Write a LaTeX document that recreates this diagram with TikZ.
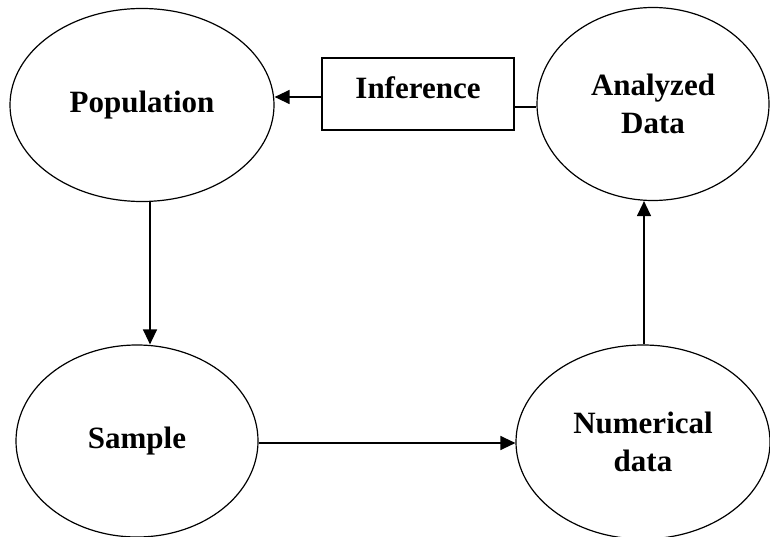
\documentclass[tikz,border=0pt]{standalone}
\usepackage{fontspec}
\setmainfont{Liberation Serif}
\usetikzlibrary{shapes.geometric,arrows.meta}
\begin{document}
\begin{tikzpicture}[x=1pt,y=-1pt,
  oval/.style={draw, ellipse, line width=1.2pt, inner sep=0pt, align=center,
    font=\fontsize{31}{38}\selectfont\bfseries},
  box/.style={draw, rectangle, line width=1.2pt, inner sep=0pt,
    font=\fontsize{31}{38}\selectfont\bfseries},
  arr/.style={line width=1.3pt, -{Triangle[length=15pt,width=14pt]}},
  conn/.style={line width=1.3pt}]
\useasboundingbox (0,0) rectangle (770,537);
\clip (0,0) rectangle (770,537);
\node[oval, minimum width=264pt, minimum height=193pt] (pop) at (142,105) {Population};
\node[oval, minimum width=232pt, minimum height=193pt] (ana) at (653,104) {Analyzed\\Data};
\node[oval, minimum width=242pt, minimum height=192pt] (samp) at (137,441) {Sample};
\node[oval, minimum width=254pt, minimum height=194pt] (num) at (643,442) {Numerical\\data};
\node[box, minimum width=192pt, minimum height=72pt, text depth=12pt] (inf) at (418,94) {Inference};
\coordinate (ay) at (0,97);
\coordinate (by) at (0,107);
\coordinate (lx) at (150,0);
\coordinate (cx) at (644,0);
\coordinate (dy) at (0,443);
\draw[arr] (inf.west |- ay) -- (pop.east |- ay);
\draw[conn] (ana.west |- by) -- (inf.east |- by);
\draw[arr] (pop.south -| lx) -- (samp.north -| lx);
\draw[arr] (samp.east |- dy) -- (num.west |- dy);
\draw[arr] (num.north -| cx) -- (ana.south -| cx);
\end{tikzpicture}
\end{document}
